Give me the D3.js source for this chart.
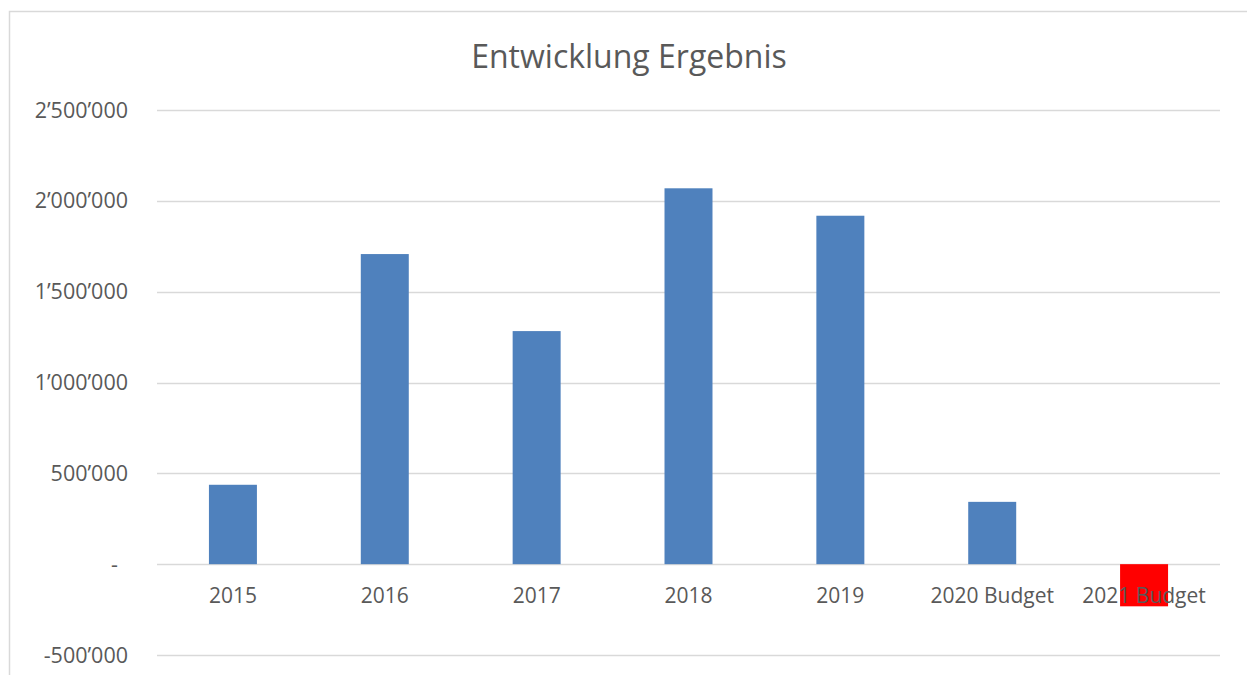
<!DOCTYPE html>
<html>
<head>
<meta charset="utf-8">
<script src="https://cdn.jsdelivr.net/npm/d3@7"></script>
<style>
  body { margin: 0; background: #fff; }
  text { font-family: "Open Sans", sans-serif; fill: #595959; }
</style>
</head>
<body>
<script>
var width = 1247, height = 675

var categories = ["2015", "2016", "2017", "2018", "2019", "2020 Budget", "2021 Budget"];
var values = [437000, 1707000, 1283000, 2069000, 1918000, 343000, -232000];
var barColors = ["#4F81BD", "#4F81BD", "#4F81BD", "#4F81BD", "#4F81BD", "#4F81BD", "#FF0000"];
var yTicks = [-500000, 0, 500000, 1000000, 1500000, 2000000, 2500000];
var title = "Entwicklung Ergebnis";

var svg = d3.select("body")
    .append("svg")
    .attr("width", width)
    .attr("height", height);

// chart area frame (runs off the right / bottom like the screenshot)
svg.append("rect")
    .attr("x", 9.5).attr("y", 11.5)
    .attr("width", 1260).attr("height", 700)
    .attr("fill", "none")
    .attr("stroke", "#D9D9D9")
    .attr("stroke-width", 1.5);

var x = d3.scaleBand()
    .domain(categories)
    .range([157, 1220])
    .paddingInner(0.684)
    .paddingOuter(0.342);

var y = d3.scaleLinear()
    .domain([-500000, 2500000])
    .range([655, 110]);

var fmt = function(v) {
  if (v === 0) return "-";
  return d3.format(",")(v).replace(/,/g, "\u2019").replace("\u2212", "-");
};

// gridlines
svg.selectAll("line.grid")
    .data(yTicks)
  .enter().append("line")
    .attr("class", "grid")
    .attr("x1", 157).attr("x2", 1220)
    .attr("y1", function(d){ return Math.round(y(d)) + 0.5; })
    .attr("y2", function(d){ return Math.round(y(d)) + 0.5; })
    .attr("stroke", "#D9D9D9")
    .attr("stroke-width", 1.5);

// y labels
svg.selectAll("text.ytick")
    .data(yTicks)
  .enter().append("text")
    .attr("class", "ytick")
    .attr("x", function(d){ return d === 0 ? 118 : 128; })
    .attr("y", function(d){ return y(d); })
    .attr("dy", "0.35em")
    .attr("text-anchor", "end")
    .style("font-size", "21.5px")
    .text(fmt);

// bars
svg.selectAll("rect.bar")
    .data(values)
  .enter().append("rect")
    .attr("class", "bar")
    .attr("x", function(d, i){ return x(categories[i]); })
    .attr("width", x.bandwidth())
    .attr("y", function(d){ return y(Math.max(0, d)); })
    .attr("height", function(d){ return Math.abs(y(d) - y(0)); })
    .attr("fill", function(d, i){ return barColors[i]; });

// category labels
svg.selectAll("text.xtick")
    .data(categories)
  .enter().append("text")
    .attr("class", "xtick")
    .attr("x", function(d){ return x(d) + x.bandwidth() / 2; })
    .attr("y", 596)
    .attr("dy", "0.35em")
    .attr("text-anchor", "middle")
    .style("font-size", "21px")
    .text(function(d){ return d; });

svg.append("text")
    .attr("x", 629)
    .attr("y", 57)
    .attr("dy", "0.35em")
    .attr("text-anchor", "middle")
    .style("font-size", "32px")
    .text(title);
</script>
</body>
</html>
